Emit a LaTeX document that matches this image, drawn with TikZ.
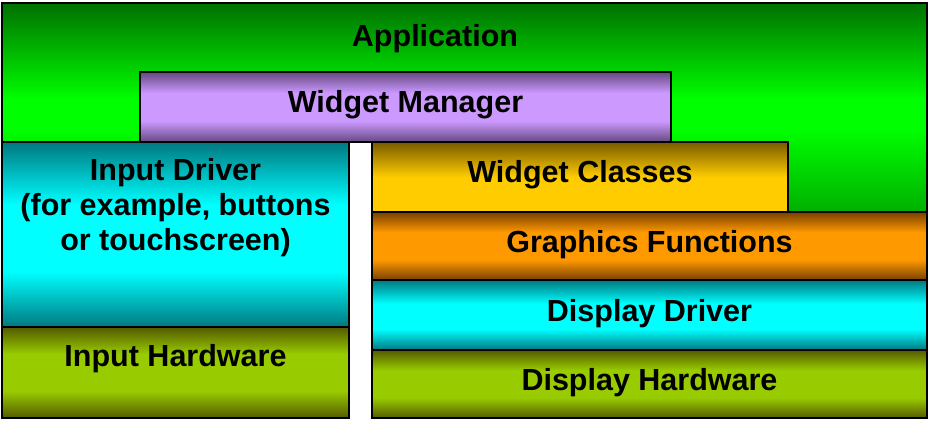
\documentclass[tikz,border=0pt]{standalone}
\usepackage{fontspec}
\setmainfont{Liberation Sans}
\definecolor{gdark}{RGB}{0,112,0}
\definecolor{gbright}{RGB}{0,255,0}
\definecolor{gbot}{RGB}{0,175,0}
\definecolor{pdark}{RGB}{100,72,128}
\definecolor{plight}{RGB}{204,153,255}
\definecolor{tdark}{RGB}{0,120,128}
\definecolor{tlight}{RGB}{0,255,255}
\definecolor{odark}{RGB}{84,90,0}
\definecolor{olight}{RGB}{153,204,0}
\definecolor{ordark}{RGB}{120,64,0}
\definecolor{orlight}{RGB}{255,153,0}
\definecolor{yldark}{RGB}{120,90,0}
\definecolor{ylight}{RGB}{255,204,0}
\pgfdeclareverticalshading{appsh}{100bp}{color(0bp)=(gbot); color(25bp)=(gbot); color(45bp)=(gbright); color(52bp)=(gbright); color(75bp)=(gdark); color(100bp)=(gdark)}
\pgfdeclareverticalshading{purplesh}{100bp}{color(0bp)=(pdark); color(25bp)=(pdark); color(40bp)=(plight); color(60bp)=(plight); color(75bp)=(pdark); color(100bp)=(pdark)}
\pgfdeclareverticalshading{tealsh}{100bp}{color(0bp)=(tdark); color(25bp)=(tdark); color(40bp)=(tlight); color(58bp)=(tlight); color(75bp)=(tdark); color(100bp)=(tdark)}
\pgfdeclareverticalshading{olivesh}{100bp}{color(0bp)=(odark); color(25bp)=(odark); color(40bp)=(olight); color(60bp)=(olight); color(75bp)=(odark); color(100bp)=(odark)}
\pgfdeclareverticalshading{orangesh}{100bp}{color(0bp)=(ordark); color(25bp)=(ordark); color(40bp)=(orlight); color(60bp)=(orlight); color(75bp)=(ordark); color(100bp)=(ordark)}
\pgfdeclareverticalshading{goldsh}{100bp}{color(0bp)=(ylight); color(25bp)=(ylight); color(50bp)=(ylight); color(75bp)=(yldark); color(100bp)=(yldark)}
\begin{document}
\begin{tikzpicture}[x=1pt,y=-1pt,
  layer/.style={draw=black, line width=1.8pt},
  lbl/.style={font=\fontsize{30.5}{35}\selectfont\bfseries, text=black, align=center, inner sep=0pt}]
\useasboundingbox (0,0) rectangle (932,424);
% Application
\shadedraw[layer, shading=appsh] (2,3) -- (927,3) -- (927,212) -- (788,212) -- (788,142) -- (2,142) -- cycle;
\node[lbl] (app) at (435,38.5) {Application};
% Widget Manager
\shadedraw[layer, shading=purplesh] (140,72) rectangle (671,142);
\node[lbl] (wm) at (405.5,104.5) {Widget Manager};
% Input Driver
\shadedraw[layer, shading=tealsh] (2,142) rectangle (349,327);
\node[lbl] (id) at (175.5,207.5) {Input Driver\\(for example, buttons\\or touchscreen)};
% Input Hardware
\shadedraw[layer, shading=olivesh] (2,327) rectangle (349,418);
\node[lbl] (ih) at (175.5,358.5) {Input Hardware};
% Widget Classes
\shadedraw[layer, shading=goldsh] (372,142) rectangle (788,212);
\node[lbl] (wc) at (580,174.5) {Widget Classes};
% Graphics Functions
\shadedraw[layer, shading=orangesh] (372,212) rectangle (927,280);
\node[lbl] (gf) at (649.5,244.5) {Graphics Functions};
% Display Driver
\shadedraw[layer, shading=tealsh] (372,280) rectangle (927,350);
\node[lbl] (dd) at (649.5,313.5) {Display Driver};
% Display Hardware
\shadedraw[layer, shading=olivesh] (372,350) rectangle (927,418);
\node[lbl] (dh) at (649.5,382.5) {Display Hardware};
\end{tikzpicture}
\end{document}
